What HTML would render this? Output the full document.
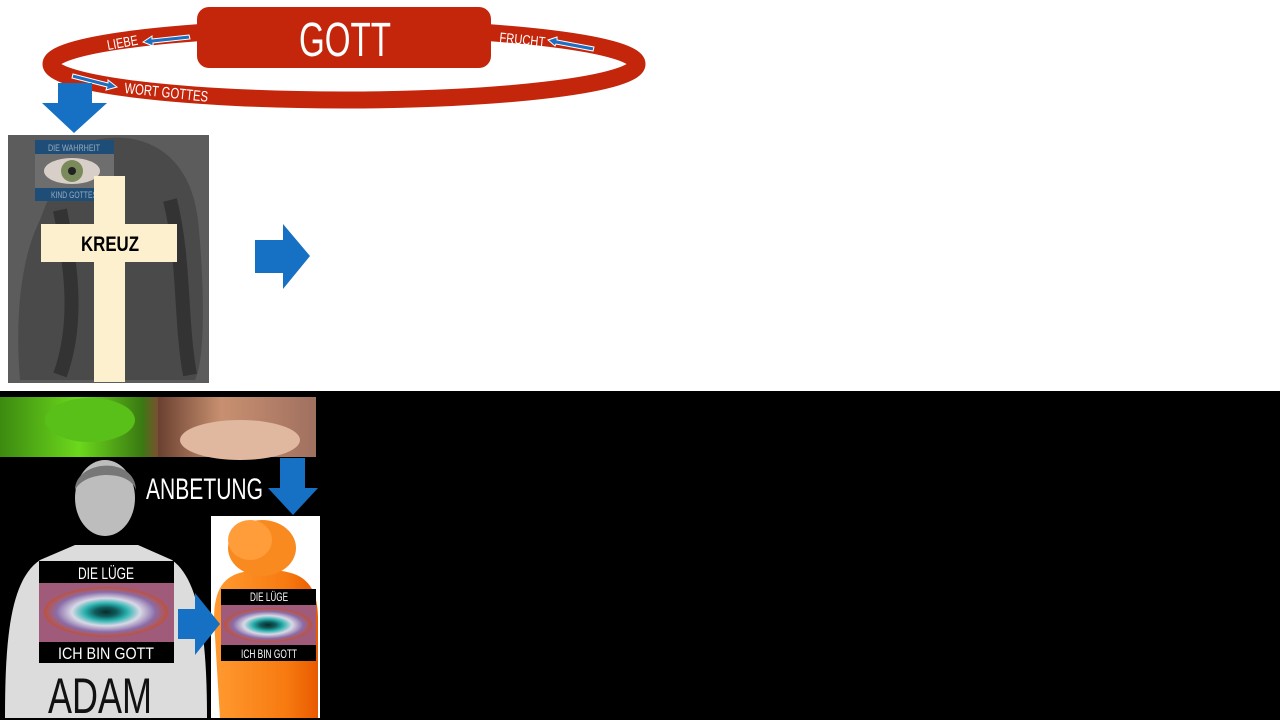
<!DOCTYPE html>
<html><head><meta charset="utf-8"><style>
html,body{margin:0;padding:0;background:#fff;width:1280px;height:720px;overflow:hidden}
svg{display:block}
text{font-family:"Liberation Sans",sans-serif}
</style></head><body>
<svg width="1280" height="720" viewBox="0 0 1280 720" xmlns="http://www.w3.org/2000/svg">
<defs>
<radialGradient id="eye" cx="50%" cy="50%" r="50%">
<stop offset="0" stop-color="#0a2a2a"/><stop offset="0.18" stop-color="#0f5c5c"/><stop offset="0.35" stop-color="#2bb3b0"/><stop offset="0.55" stop-color="#d9d9e6"/><stop offset="0.8" stop-color="#8a6ca8"/><stop offset="1" stop-color="#c0503a"/>
</radialGradient>
<linearGradient id="snake" x1="0" x2="1"><stop offset="0" stop-color="#3c8a10"/><stop offset="0.5" stop-color="#6cd81c"/><stop offset="0.9" stop-color="#3a7a12"/><stop offset="1" stop-color="#7a5030"/></linearGradient>
<linearGradient id="face" x1="0" x2="1"><stop offset="0" stop-color="#6a4030"/><stop offset="0.4" stop-color="#c89070"/><stop offset="1" stop-color="#a07060"/></linearGradient>
<linearGradient id="org" x1="0" x2="1"><stop offset="0" stop-color="#ff9a30"/><stop offset="0.7" stop-color="#f77a10"/><stop offset="1" stop-color="#e85a00"/></linearGradient>
</defs>

<!-- ring -->
<ellipse cx="344" cy="64" rx="293" ry="36" fill="none" stroke="#c4260c" stroke-width="17"/>
<rect x="197" y="7" width="294" height="61" rx="12" fill="#c4260c"/>
<text x="345" y="56" font-size="48" fill="#fff" text-anchor="middle" textLength="92" lengthAdjust="spacingAndGlyphs">GOTT</text>
<text x="108" y="50" font-size="14" fill="#fff" textLength="31" lengthAdjust="spacingAndGlyphs" transform="rotate(-10 108 50)">LIEBE</text>
<text x="499" y="42" font-size="14" fill="#fff" textLength="46" lengthAdjust="spacingAndGlyphs" transform="rotate(6 499 42)">FRUCHT</text>
<text x="124" y="93" font-size="15" fill="#fff" textLength="84" lengthAdjust="spacingAndGlyphs" transform="rotate(6 124 93)">WORT GOTTES</text>
<g stroke="#fff" stroke-width="1" fill="#1f6fc0">
<polygon points="189,35 152,39 152,36 143,42 153,46 153,43 190,39"/>
<polygon points="594,47 557,40 557,37 548,40 555,46 556,44 593,51"/>
<polygon points="73,74 108,83 108,80 117,87 106,90 107,87 72,78"/>
</g>

<!-- blue down arrow -->
<polygon points="58,83 92,83 92,103 107,103 74,133 42,103 58,103" fill="#1670c4"/>

<!-- gray picture -->
<rect x="8" y="135" width="201" height="248" fill="#5c5c5c"/>
<path d="M95 140 C140 130 190 150 198 220 C205 290 205 360 195 380 L20 380 C15 320 20 260 40 220 C55 180 70 150 95 140Z" fill="#4a4a4a"/>
<path d="M60 210 C70 260 80 320 60 375 M170 200 C185 260 180 320 190 375" stroke="#2a2a2a" stroke-width="14" fill="none" opacity="0.7"/>
<rect x="35" y="140" width="79" height="61" fill="#6e6e6e"/>
<ellipse cx="72" cy="171" rx="28" ry="13" fill="#d8d0c8"/>
<circle cx="72" cy="171" r="11" fill="#7a8a5a"/><circle cx="72" cy="171" r="4" fill="#222"/>
<rect x="35" y="140" width="79" height="14" fill="#1e4e78"/>
<rect x="35" y="188" width="79" height="13" fill="#1e4e78"/>
<text x="74" y="151" font-size="9" fill="#9ab" text-anchor="middle" textLength="52" lengthAdjust="spacingAndGlyphs">DIE WAHRHEIT</text>
<text x="74" y="198" font-size="9" fill="#9ab" text-anchor="middle" textLength="46" lengthAdjust="spacingAndGlyphs">KIND GOTTES</text>
<rect x="94" y="176" width="31" height="206" fill="#fdf0cf"/>
<rect x="41" y="224" width="136" height="38" fill="#fdf0cf"/>
<text x="110" y="251" font-size="21" font-weight="bold" fill="#000" text-anchor="middle" textLength="58" lengthAdjust="spacingAndGlyphs">KREUZ</text>

<!-- right arrow -->
<polygon points="255,240 283,240 283,224 310,256 283,289 283,273 255,273" fill="#1670c4"/>

<!-- black band -->
<rect x="0" y="391" width="1280" height="329" fill="#000"/>
<rect x="0" y="397" width="158" height="60" fill="url(#snake)"/>
<rect x="158" y="397" width="158" height="60" fill="url(#face)"/>
<ellipse cx="90" cy="420" rx="45" ry="22" fill="#58c018"/>
<ellipse cx="240" cy="440" rx="60" ry="20" fill="#e0b8a0"/>

<!-- adam -->
<path d="M5 718 C5 640 10 580 40 560 L75 545 L138 545 L172 560 C200 580 207 640 207 718Z" fill="#dcdcdc"/>
<ellipse cx="105" cy="498" rx="30" ry="38" fill="#bdbdbd"/>
<path d="M75 490 C75 460 135 455 136 490 C130 470 85 470 75 490Z" fill="#777"/>
<rect x="39" y="561" width="135" height="22" fill="#000"/>
<rect x="39" y="583" width="135" height="59" fill="#a05a7a"/>
<ellipse cx="106" cy="612" rx="62" ry="25" fill="url(#eye)"/>
<rect x="39" y="642" width="135" height="21" fill="#000"/>
<text x="106" y="579" font-size="17" fill="#fff" text-anchor="middle" textLength="56" lengthAdjust="spacingAndGlyphs">DIE LÜGE</text>
<text x="106" y="659" font-size="17" fill="#fff" text-anchor="middle" textLength="96" lengthAdjust="spacingAndGlyphs">ICH BIN GOTT</text>
<text x="100" y="713" font-size="50" fill="#111" text-anchor="middle" textLength="104" lengthAdjust="spacingAndGlyphs">ADAM</text>
<text x="146" y="499" font-size="30" fill="#fff" textLength="117" lengthAdjust="spacingAndGlyphs">ANBETUNG</text>
<polygon points="280,458 305,458 305,488 318,488 293,515 268,488 280,488" fill="#1670c4"/>

<!-- orange person -->
<rect x="211" y="516" width="109" height="202" fill="#fff"/>
<path d="M220 718 L214 620 C214 580 230 570 265 570 C300 570 318 580 318 620 L318 718Z" fill="url(#org)"/>
<ellipse cx="262" cy="548" rx="34" ry="28" fill="#f88a20"/>
<ellipse cx="250" cy="540" rx="22" ry="20" fill="#ff9d3a"/>
<polygon points="178,609 195,609 195,593 220,624 195,655 195,639 178,639" fill="#1670c4"/>
<rect x="221" y="589" width="95" height="16" fill="#000"/>
<rect x="221" y="605" width="95" height="40" fill="#a05a7a"/>
<ellipse cx="268" cy="625" rx="44" ry="17" fill="url(#eye)"/>
<rect x="221" y="645" width="95" height="16" fill="#000"/>
<text x="269" y="601" font-size="12" fill="#fff" text-anchor="middle" textLength="38" lengthAdjust="spacingAndGlyphs">DIE LÜGE</text>
<text x="269" y="658" font-size="12" fill="#fff" text-anchor="middle" textLength="56" lengthAdjust="spacingAndGlyphs">ICH BIN GOTT</text>
</svg>
</body></html>
